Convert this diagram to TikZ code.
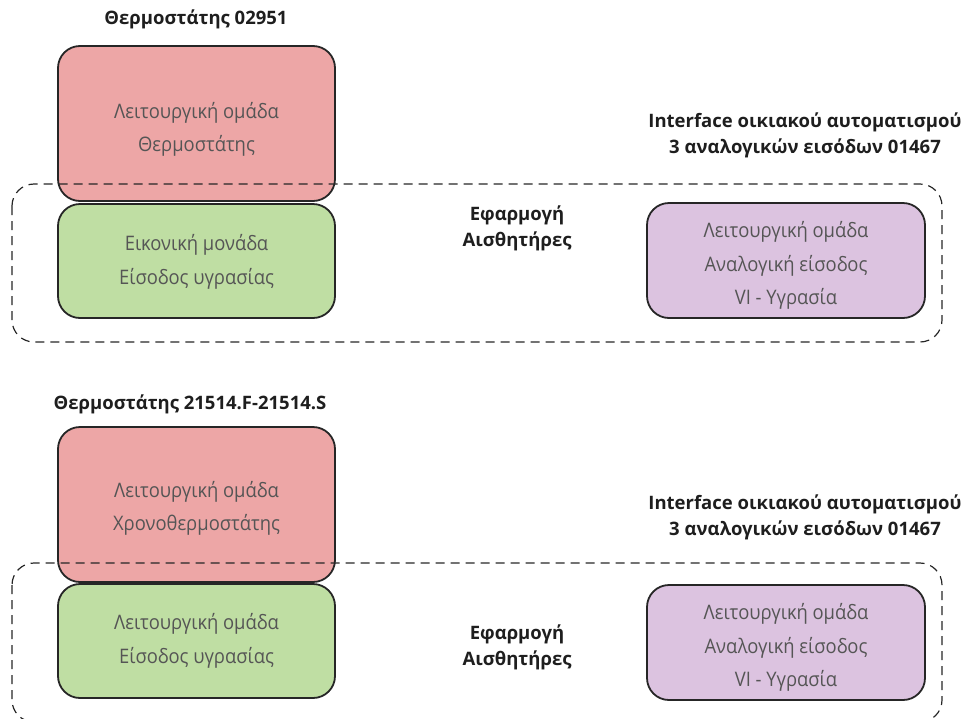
\documentclass[tikz,border=0pt]{standalone}
\usepackage{fontspec}
\setmainfont{Open Sans}
\newfontfamily\boxfont[FakeStretch=0.92]{Open Sans}
\definecolor{redfill}{HTML}{EDA6A6}
\definecolor{greenfill}{HTML}{BFDEA3}
\definecolor{purplefill}{HTML}{DCC3E0}
\definecolor{boxtext}{HTML}{555555}
\definecolor{titletext}{HTML}{1E1E1E}
\tikzset{
  gbox/.style={draw=black!85, line width=1.8pt, rounded corners=22pt, inner sep=0pt},
  boxlbl/.style={align=center, text=boxtext, font=\boxfont\fontsize{20}{33.5}\selectfont, inner sep=0pt},
  redbox/.style={gbox, fill=redfill, minimum width=277pt, minimum height=155pt},
  greenbox/.style={gbox, fill=greenfill, minimum width=277pt, minimum height=114pt},
  purplebox/.style={gbox, fill=purplefill, minimum width=278pt, minimum height=115pt},
  titlelbl/.style={font=\bfseries\fontsize{18.5}{26}\selectfont, text=titletext, align=center, inner sep=0pt},
  groupline/.style={draw=black!85, line width=1.2pt, dash pattern=on 9pt off 6pt, rounded corners=22pt}
}
\begin{document}
\begin{tikzpicture}[x=1pt,y=-1pt]
\useasboundingbox (0,0) rectangle (973,718);
\clip (0,0) rectangle (973,718);
% ---------- top section ----------
\node[titlelbl] (t1) at (196,19) {Θερμοστάτης 02951};
\node[redbox] (r1) at (196.5,123.5) {};
\node[boxlbl] (r1t) at ([yshift=-6pt]r1.center) {Λειτουργική ομάδα\\Θερμοστάτης};
\node[greenbox] (g1) at (196.5,261) {};
\node[boxlbl] (g1t) at ([yshift=-1pt]g1.center) {Εικονική μονάδα\\Είσοδος υγρασίας};
\node[purplebox] (p1) at (786,260.5) {};
\node[boxlbl] (p1t) at ([yshift=-5pt]p1.center) {Λειτουργική ομάδα\\Αναλογική είσοδος\\VI - Υγρασία};
\node[titlelbl] (i1) at (805,135) {Interface οικιακού αυτοματισμού\\3 αναλογικών εισόδων 01467};
\node[titlelbl] (a1) at (517,228.5) {Εφαρμογή\\Αισθητήρες};
\draw[groupline] (12,184) rectangle (942,342);
% ---------- bottom section ----------
\node[titlelbl] (t2) at (190,404) {Θερμοστάτης 21514.F-21514.S};
\node[redbox] (r2) at (196.5,504.5) {};
\node[boxlbl] (r2t) at ([yshift=-4pt]r2.center) {Λειτουργική ομάδα\\Χρονοθερμοστάτης};
\node[greenbox] (g2) at (196.5,641) {};
\node[boxlbl] (g2t) at (g2.center) {Λειτουργική ομάδα\\Είσοδος υγρασίας};
\node[purplebox] (p2) at (786,642.5) {};
\node[boxlbl] (p2t) at ([yshift=-5pt]p2.center) {Λειτουργική ομάδα\\Αναλογική είσοδος\\VI - Υγρασία};
\node[titlelbl] (i2) at (805,517) {Interface οικιακού αυτοματισμού\\3 αναλογικών εισόδων 01467};
\node[titlelbl] (a2) at (517,647) {Εφαρμογή\\Αισθητήρες};
\draw[groupline] (12,563) rectangle (942,722);
\end{tikzpicture}
\end{document}
